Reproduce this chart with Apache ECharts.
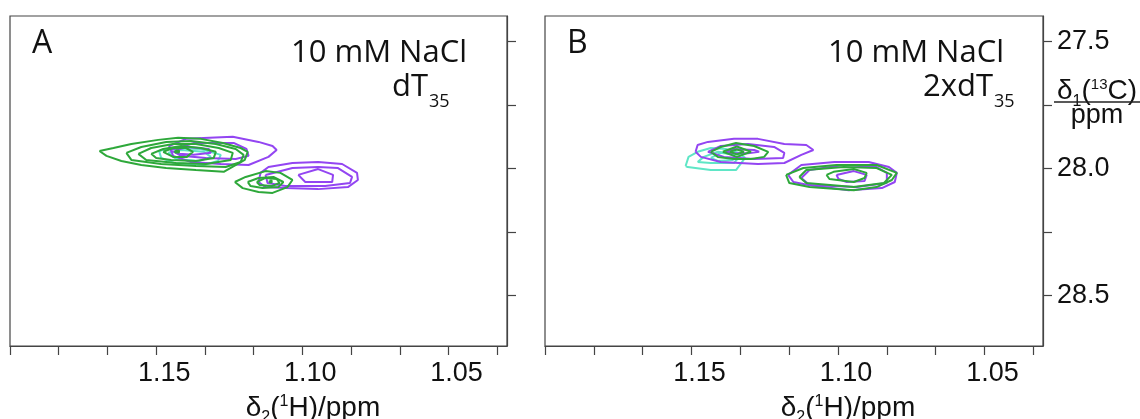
<!DOCTYPE html>
<html>
<head>
<meta charset="utf-8">
<script src="https://cdn.jsdelivr.net/npm/echarts@6/dist/echarts.min.js"></script>
<style>
  html, body { margin: 0; padding: 0; background: #fff; }
  #chart { width: 1140px; height: 419px; }
</style>
</head>
<body>
<div id="chart"></div>
<script>
// Axis ranges and ticks (ppm)
const xRange = [1.03, 1.20];
const yRange = [27.4, 28.7];
const xTickValues = [1.2, 1.18333, 1.16667, 1.15, 1.13333, 1.11667, 1.10, 1.08333, 1.06667, 1.05, 1.03333];
const xLabelValues = [1.15, 1.10, 1.05];
const yTickValues = [27.5, 27.75, 28.0, 28.25, 28.5];
const yLabelValues = [27.5, 28.0, 28.5];

// Contour outlines, each a list of [δ2(1H), δ1(13C)] points in ppm
// Panel A: dT35
const aCyan = [
  [[1.1490,27.932],[1.1449,27.920],[1.1347,27.924],[1.1279,27.947],[1.1289,27.971],[1.1337,27.987],[1.1439,27.979],[1.1483,27.959]],
  [[1.1459,27.939],[1.1415,27.928],[1.1337,27.935],[1.1313,27.955],[1.1354,27.971],[1.1432,27.963]]
];
const aPurple = [
  [[1.1456,27.912],[1.1398,27.884],[1.1238,27.876],[1.1150,27.896],[1.1102,27.912],[1.1088,27.928],[1.1116,27.955],[1.1184,27.987],[1.1279,27.983],[1.1381,27.975],[1.1442,27.951]],
  [[1.1449,27.928],[1.1371,27.900],[1.1235,27.900],[1.1191,27.924],[1.1184,27.951],[1.1228,27.963],[1.1330,27.959],[1.1415,27.951]],
  [[1.1432,27.928],[1.1391,27.916],[1.1320,27.924],[1.1313,27.939],[1.1371,27.947],[1.1422,27.943]],
  [[1.1150,28.054],[1.1143,28.018],[1.1116,27.995],[1.1034,27.979],[1.0946,27.975],[1.0864,27.983],[1.0813,28.018],[1.0810,28.046],[1.0844,28.074],[1.0946,28.082],[1.1058,28.078],[1.1126,28.074]],
  [[1.1126,28.026],[1.1034,27.999],[1.0946,27.995],[1.0878,27.999],[1.0830,28.034],[1.0837,28.058],[1.0922,28.070],[1.1058,28.070],[1.1119,28.058]],
  [[1.1014,28.026],[1.0946,28.003],[1.0895,28.026],[1.0898,28.054],[1.0990,28.054]]
];
const aGreen = [
  [[1.1694,27.932],[1.1646,27.920],[1.1585,27.904],[1.1493,27.888],[1.1425,27.880],[1.1347,27.884],[1.1272,27.900],[1.1211,27.920],[1.1187,27.935],[1.1197,27.967],[1.1269,28.014],[1.1364,28.007],[1.1466,27.999],[1.1551,27.987],[1.1619,27.971],[1.1670,27.951]],
  [[1.1602,27.939],[1.1551,27.916],[1.1466,27.896],[1.1381,27.892],[1.1296,27.904],[1.1228,27.924],[1.1201,27.947],[1.1211,27.975],[1.1262,27.995],[1.1364,27.991],[1.1483,27.983],[1.1585,27.967]],
  [[1.1561,27.943],[1.1517,27.920],[1.1442,27.904],[1.1364,27.904],[1.1286,27.920],[1.1238,27.939],[1.1245,27.967],[1.1330,27.983],[1.1432,27.979],[1.1534,27.967]],
  [[1.1517,27.943],[1.1476,27.924],[1.1415,27.912],[1.1347,27.920],[1.1296,27.935],[1.1303,27.959],[1.1364,27.971],[1.1449,27.967],[1.1500,27.959]],
  [[1.1476,27.935],[1.1442,27.920],[1.1398,27.920],[1.1374,27.935],[1.1395,27.955],[1.1442,27.955]],
  [[1.1435,27.930],[1.1422,27.930],[1.1422,27.938],[1.1435,27.938]],
  [[1.1231,28.054],[1.1194,28.034],[1.1126,28.011],[1.1075,28.018],[1.1034,28.046],[1.1051,28.074],[1.1102,28.097],[1.1150,28.093],[1.1204,28.078]],
  [[1.1187,28.054],[1.1150,28.038],[1.1099,28.034],[1.1065,28.054],[1.1082,28.074],[1.1136,28.078],[1.1177,28.070]],
  [[1.1156,28.054],[1.1126,28.038],[1.1088,28.042],[1.1078,28.058],[1.1105,28.070],[1.1146,28.066]],
  [[1.1112,28.048],[1.1105,28.048],[1.1105,28.056],[1.1112,28.056]]
];

// Panel B: 2xdT35
const bCyan = [
  [[1.1520,27.991],[1.1510,27.955],[1.1479,27.935],[1.1434,27.920],[1.1383,27.924],[1.1341,27.939],[1.1317,27.959],[1.1348,28.007],[1.1434,28.007],[1.1513,27.995]],
  [[1.1479,27.975],[1.1458,27.955],[1.1410,27.935],[1.1331,27.947],[1.1355,27.979],[1.1434,27.979]],
  [[1.1434,27.959],[1.1400,27.939],[1.1355,27.947],[1.1358,27.967],[1.1410,27.971]]
];
const bPurple = [
  [[1.1486,27.935],[1.1479,27.908],[1.1444,27.896],[1.1355,27.884],[1.1273,27.884],[1.1183,27.904],[1.1108,27.908],[1.1084,27.928],[1.1125,27.947],[1.1183,27.979],[1.1273,27.983],[1.1400,27.975],[1.1468,27.955]],
  [[1.1444,27.935],[1.1400,27.912],[1.1307,27.904],[1.1218,27.916],[1.1183,27.939],[1.1187,27.959],[1.1286,27.963],[1.1389,27.955]],
  [[1.1383,27.935],[1.1355,27.924],[1.1286,27.928],[1.1269,27.935],[1.1307,27.941],[1.1365,27.941]],
  [[1.1170,28.026],[1.1125,27.987],[1.1012,27.975],[1.0895,27.975],[1.0826,27.995],[1.0799,28.018],[1.0806,28.054],[1.0850,28.078],[1.0963,28.086],[1.1101,28.066],[1.1152,28.054]],
  [[1.1125,28.038],[1.1097,28.007],[1.0980,27.987],[1.0868,27.995],[1.0833,28.018],[1.0833,28.058],[1.0936,28.074],[1.1097,28.066]],
  [[1.1005,28.026],[1.0946,28.011],[1.0902,28.026],[1.0909,28.050],[1.0970,28.054],[1.0998,28.042]]
];
const bGreen = [
  [[1.1434,27.935],[1.1400,27.916],[1.1348,27.900],[1.1286,27.912],[1.1238,27.935],[1.1252,27.955],[1.1297,27.963],[1.1355,27.963],[1.1410,27.955]],
  [[1.1393,27.935],[1.1345,27.914],[1.1297,27.935],[1.1345,27.955]],
  [[1.1369,27.935],[1.1345,27.926],[1.1321,27.935],[1.1345,27.945]],
  [[1.1177,28.026],[1.1118,27.999],[1.1005,27.987],[1.0868,27.987],[1.0799,28.018],[1.0816,28.046],[1.0868,28.074],[1.0946,28.086],[1.1097,28.074],[1.1166,28.058]],
  [[1.1132,28.034],[1.1108,28.007],[1.0980,27.995],[1.0868,27.999],[1.0816,28.026],[1.0843,28.058],[1.0946,28.074],[1.1108,28.058]],
  [[1.1039,28.026],[1.1015,28.014],[1.0946,28.003],[1.0902,28.018],[1.0909,28.038],[1.0946,28.054],[1.1029,28.042]]
];

const COLORS = { cyan: '#5fe6c6', purple: '#9345f2', green: '#2ea83a' };
const AXIS_COLOR = '#444';
const TEXT_COLOR = '#111';
const TICK_FONT = 'Liberation Sans';
const NOTE_FONT = 'Open Sans';

const chart = echarts.init(document.getElementById('chart'), null, { renderer: 'canvas' });

const grids = [
  { left: 10, top: 16, width: 497, height: 330 },
  { left: 545, top: 16, width: 498, height: 330 }
];

function xAxisFor(i) {
  return {
    gridIndex: i, type: 'value', min: xRange[0], max: xRange[1], inverse: true,
    axisLine: { show: true, onZero: false, lineStyle: { color: AXIS_COLOR, width: 1.2 } },
    axisTick: { show: true, inside: false, length: 9, customValues: xTickValues, lineStyle: { color: AXIS_COLOR, width: 1.2 } },
    axisLabel: {
      show: true, customValues: xLabelValues, margin: 14, padding: [0, 0, 0, 16],
      formatter: v => v.toFixed(2), fontSize: 27, fontFamily: TICK_FONT, color: TEXT_COLOR
    },
    splitLine: { show: false }
  };
}
function yAxisFor(i, labelled) {
  return {
    gridIndex: i, type: 'value', min: yRange[0], max: yRange[1], inverse: true, position: 'right',
    axisLine: { show: true, onZero: false, lineStyle: { color: AXIS_COLOR, width: 1.2 } },
    axisTick: { show: true, inside: false, length: 9, customValues: yTickValues, lineStyle: { color: AXIS_COLOR, width: 1.2 } },
    axisLabel: {
      show: labelled, customValues: yLabelValues, margin: 14,
      formatter: v => v.toFixed(1), fontSize: 27, fontFamily: TICK_FONT, color: TEXT_COLOR
    },
    splitLine: { show: false }
  };
}

function contourSeries(contours, color, gridIdx) {
  return contours.map(c => ({
    type: 'line', xAxisIndex: gridIdx, yAxisIndex: gridIdx,
    data: c.concat([c[0]]),
    showSymbol: false, symbol: 'none', smooth: false, silent: true,
    lineStyle: { color: color, width: 2 },
    animation: false
  }));
}

const series = [].concat(
  contourSeries(aCyan, COLORS.cyan, 0),
  contourSeries(aPurple, COLORS.purple, 0),
  contourSeries(aGreen, COLORS.green, 0),
  contourSeries(bCyan, COLORS.cyan, 1),
  contourSeries(bPurple, COLORS.purple, 1),
  contourSeries(bGreen, COLORS.green, 1)
);

// Text runs with sub/superscripts, laid out from measured glyph widths
const mctx = document.createElement('canvas').getContext('2d');
function fontStr(size, fam) { return size + 'px "' + fam + '"'; }
function midOffset(size, fam) {
  mctx.font = fontStr(size, fam);
  mctx.textBaseline = 'alphabetic';
  const a = mctx.measureText('H').actualBoundingBoxAscent;
  mctx.textBaseline = 'middle';
  const b = mctx.measureText('H').actualBoundingBoxAscent;
  return a - b;
}
function textRun(parts, x, baseline, align, fam) {
  const widths = parts.map(p => { mctx.font = fontStr(p.size, fam); return mctx.measureText(p.t).width; });
  const total = widths.reduce((s, w) => s + w, 0);
  let cur = align === 'right' ? x - total : align === 'center' ? x - total / 2 : x;
  return parts.map((p, i) => {
    const el = {
      type: 'text', x: cur, y: baseline + (p.dy || 0) - midOffset(p.size, fam), silent: true,
      style: { text: p.t, fontSize: p.size, fontFamily: fam, fill: TEXT_COLOR, align: 'left', verticalAlign: 'middle' }
    };
    cur += widths[i];
    return el;
  });
}

const xTitle = [{ t: 'δ', size: 28 }, { t: '2', size: 16, dy: 6 }, { t: '(', size: 28 }, { t: '1', size: 16, dy: -10 }, { t: 'H)/ppm', size: 28 }];

const graphics = [].concat(
  textRun([{ t: 'A', size: 32 }], 32, 53, 'left', NOTE_FONT),
  textRun([{ t: 'B', size: 32 }], 567, 53, 'left', NOTE_FONT),
  textRun([{ t: '10 mM NaCl', size: 31 }], 467, 62, 'right', NOTE_FONT),
  textRun([{ t: 'dT', size: 31 }], 428, 96, 'right', NOTE_FONT),
  textRun([{ t: '35', size: 18 }], 429, 107, 'left', NOTE_FONT),
  textRun([{ t: '10 mM NaCl', size: 31 }], 1004, 62, 'right', NOTE_FONT),
  textRun([{ t: '2xdT', size: 31 }], 993, 96, 'right', NOTE_FONT),
  textRun([{ t: '35', size: 18 }], 994, 107, 'left', NOTE_FONT),
  textRun(xTitle, 313, 416, 'center', TICK_FONT),
  textRun(xTitle, 848, 416, 'center', TICK_FONT),
  textRun([{ t: 'δ', size: 28 }, { t: '1', size: 16, dy: 7 }, { t: '(', size: 28 }, { t: '13', size: 15, dy: -10 }, { t: 'C)', size: 28 }], 1097, 99, 'center', TICK_FONT),
  textRun([{ t: 'ppm', size: 27 }], 1097, 123, 'center', TICK_FONT),
  [{ type: 'line', silent: true, shape: { x1: 1054, y1: 102, x2: 1140, y2: 102 }, style: { stroke: '#222', lineWidth: 1.5 } }]
);

chart.setOption({
  animation: false,
  backgroundColor: '#fff',
  grid: grids.map(g => Object.assign({ show: true, borderColor: AXIS_COLOR, borderWidth: 1.2, backgroundColor: 'transparent' }, g)),
  xAxis: [xAxisFor(0), xAxisFor(1)],
  yAxis: [yAxisFor(0, false), yAxisFor(1, true)],
  series: series,
  graphic: graphics
});
</script>
</body>
</html>
